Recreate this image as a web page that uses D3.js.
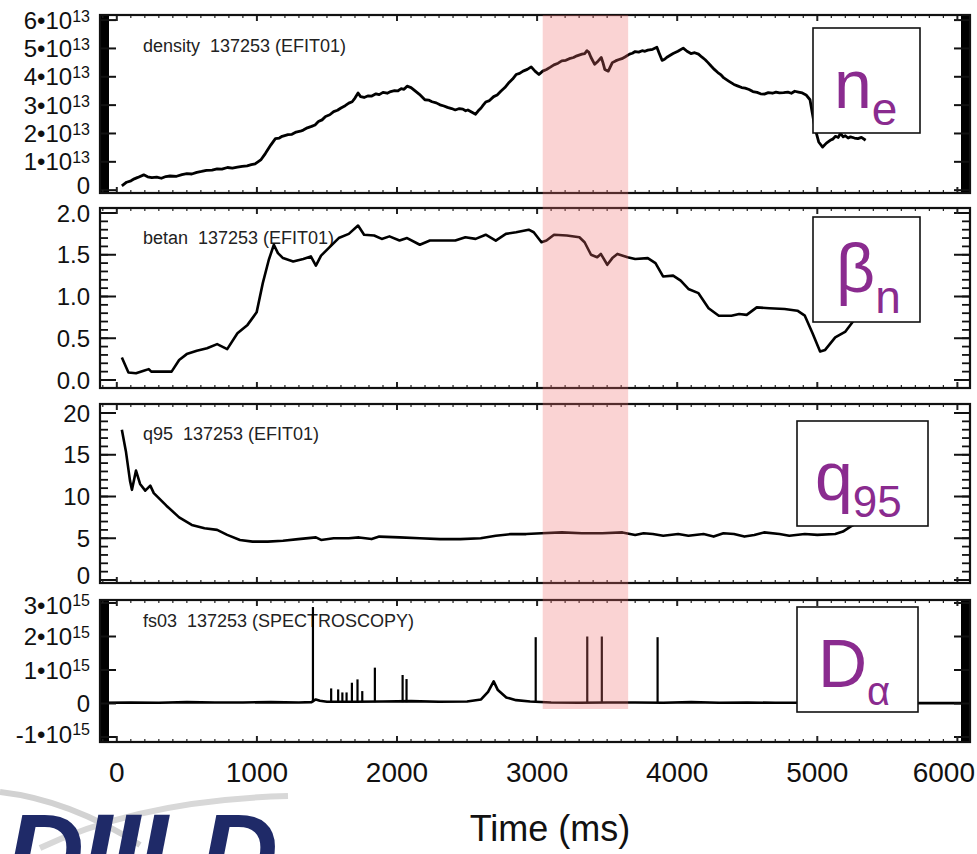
<!DOCTYPE html>
<html>
<head>
<meta charset="utf-8">
<script src="https://cdn.jsdelivr.net/npm/d3@7"></script>
<style>
body { margin: 0; background: #fff; }
svg { display: block; font-family: "Liberation Sans", Arial, Helvetica, sans-serif; }
.title { font-size: 18px; fill: #222; }
.ylab { font-size: 24px; fill: #111; }
.xlab { font-size: 28px; fill: #111; }
.tag { fill: #8a2b8f; }
</style>
</head>
<body>
<div id="chart"></div>
<script>
// time axis (ms)
var timeTicks = [0, 1000, 2000, 3000, 4000, 5000, 6000];
var bandRange = [3040, 3650];

// line-average density, units of 1e13
var densityTicks = [0, 1, 2, 3, 4, 5, 6];
var densityTickLabels = ["0", "1•10^13", "2•10^13", "3•10^13", "4•10^13", "5•10^13", "6•10^13"];
var densityData = [[36,0.15],[70,0.28],[101,0.33],[125,0.40],[150,0.45],[192,0.54],[220,0.47],[250,0.44],
  [285,0.46],[318,0.42],[350,0.48],[380,0.50],[427,0.49],[465,0.55],[500,0.58],[535,0.57],[571,0.63],
  [605,0.66],[640,0.70],[680,0.71],[716,0.75],[750,0.74],[790,0.80],[825,0.78],[861,0.81],[895,0.84],
  [930,0.86],[960,0.90],[987,0.93],[1030,1.08],[1060,1.29],[1100,1.60],[1132,1.82],[1160,1.84],
  [1180,1.90],[1222,1.96],[1250,1.97],[1280,2.05],[1310,2.08],[1331,2.12],[1360,2.20],[1390,2.25],
  [1415,2.30],[1439,2.42],[1465,2.48],[1490,2.60],[1520,2.66],[1548,2.77],[1575,2.82],[1600,2.90],
  [1630,2.98],[1656,3.07],[1680,3.12],[1700,3.25],[1722,3.43],[1740,3.30],[1765,3.27],[1795,3.33],
  [1820,3.32],[1850,3.40],[1873,3.37],[1900,3.45],[1930,3.42],[1955,3.48],[1982,3.51],[2005,3.50],
  [2030,3.58],[2050,3.56],[2072,3.67],[2100,3.62],[2127,3.51],[2160,3.38],[2199,3.19],[2225,3.18],
  [2250,3.12],[2280,3.08],[2307,3.01],[2335,2.97],[2360,2.92],[2390,2.88],[2416,2.83],[2445,2.88],
  [2470,2.86],[2490,2.80],[2506,2.83],[2535,2.75],[2561,2.68],[2580,2.80],[2600,2.90],[2615,3.00],
  [2633,3.11],[2660,3.16],[2690,3.30],[2715,3.36],[2741,3.49],[2770,3.62],[2800,3.80],[2825,3.92],
  [2850,4.08],[2875,4.12],[2900,4.20],[2930,4.26],[2958,4.35],[2985,4.20],[3013,4.08],[3040,4.20],
  [3067,4.26],[3095,4.34],[3120,4.42],[3150,4.48],[3176,4.56],[3205,4.58],[3230,4.64],[3260,4.68],
  [3284,4.74],[3320,4.80],[3340,4.82],[3356,4.92],[3370,4.86],[3385,4.68],[3411,4.44],[3435,4.55],
  [3458,4.68],[3470,4.50],[3483,4.26],[3508,4.20],[3537,4.50],[3560,4.56],[3580,4.60],[3605,4.64],
  [3627,4.70],[3660,4.80],[3680,4.83],[3700,4.89],[3725,4.87],[3750,4.92],[3770,4.90],[3790,4.94],
  [3825,4.97],[3855,5.04],[3870,4.85],[3892,4.58],[3910,4.62],[3930,4.70],[3950,4.76],[3971,4.82],
  [4005,4.90],[4043,5.01],[4070,4.90],[4098,4.82],[4125,4.85],[4152,4.80],[4175,4.70],[4200,4.60],
  [4220,4.50],[4242,4.38],[4265,4.26],[4290,4.15],[4310,4.08],[4333,3.96],[4370,3.84],[4405,3.73],
  [4430,3.68],[4460,3.62],[4485,3.60],[4513,3.55],[4540,3.48],[4570,3.45],[4595,3.40],[4622,3.39],
  [4650,3.44],[4680,3.42],[4705,3.46],[4730,3.43],[4760,3.44],[4790,3.46],[4815,3.42],[4839,3.49],
  [4865,3.46],[4893,3.43],[4920,3.36],[4948,3.19],[4965,2.70],[4984,2.18],[5010,1.70],[5038,1.52],
  [5065,1.66],[5092,1.76],[5110,1.80],[5130,1.90],[5150,1.86],[5165,2.00],[5185,1.88],[5200,1.92],
  [5220,1.84],[5237,1.88],[5265,1.84],[5290,1.82],[5315,1.86],[5345,1.76]];

// normalised beta
var betanTicks = [0, 0.5, 1, 1.5, 2];
var betanTickLabels = ["0.0", "0.5", "1.0", "1.5", "2.0"];
var betanData = [[36,0.27],[83,0.09],[137,0.08],[192,0.11],[228,0.13],[246,0.10],[300,0.10],[391,0.10],
  [445,0.24],[499,0.31],[571,0.35],[644,0.38],[716,0.43],[788,0.37],[861,0.56],[933,0.66],[998,0.81],
  [1042,1.16],[1085,1.44],[1121,1.62],[1150,1.52],[1186,1.46],[1259,1.42],[1331,1.45],[1385,1.48],
  [1421,1.37],[1458,1.49],[1530,1.61],[1584,1.70],[1656,1.75],[1722,1.85],[1765,1.74],[1837,1.73],
  [1891,1.69],[1946,1.72],[2018,1.67],[2072,1.70],[2163,1.62],[2235,1.67],[2344,1.67],[2416,1.67],
  [2488,1.71],[2561,1.69],[2633,1.74],[2705,1.67],[2777,1.75],[2850,1.77],[2940,1.80],[2976,1.77],
  [3031,1.65],[3067,1.67],[3121,1.74],[3212,1.73],[3302,1.71],[3339,1.65],[3385,1.50],[3429,1.47],
  [3455,1.51],[3501,1.38],[3537,1.46],[3573,1.51],[3646,1.47],[3700,1.45],[3790,1.46],[3845,1.40],
  [3899,1.24],[3971,1.25],[4025,1.19],[4080,1.09],[4152,1.04],[4224,0.86],[4297,0.77],[4387,0.77],
  [4442,0.79],[4496,0.78],[4568,0.87],[4658,0.86],[4767,0.85],[4858,0.83],[4911,0.77],[4966,0.56],
  [5020,0.34],[5056,0.36],[5128,0.51],[5201,0.58],[5255,0.70],[5320,0.85]];

// safety factor q95
var q95Ticks = [0, 5, 10, 15, 20];
var q95TickLabels = ["0", "5", "10", "15", "20"];
var q95Data = [[36,18.0],[65,15.4],[94,11.9],[108,10.8],[137,13.1],[166,11.5],[203,10.7],[239,11.3],
  [264,10.4],[354,8.9],[445,7.5],[535,6.6],[626,6.2],[716,6.0],[788,5.4],[879,4.8],[969,4.6],[1078,4.6],
  [1186,4.7],[1295,4.9],[1421,5.1],[1458,4.8],[1548,5.0],[1656,5.0],[1729,5.1],[1819,4.9],[1873,5.2],
  [2018,5.1],[2163,5.0],[2307,4.9],[2452,4.9],[2597,5.0],[2705,5.3],[2814,5.5],[2922,5.5],[3031,5.6],
  [3176,5.7],[3320,5.6],[3465,5.6],[3609,5.7],[3700,5.4],[3760,5.6],[3826,5.5],[3900,5.3],[4007,5.5],
  [4080,5.3],[4188,5.5],[4260,5.2],[4330,5.6],[4405,5.5],[4480,5.2],[4550,5.4],[4620,5.7],[4730,5.5],
  [4800,5.3],[4911,5.5],[5000,5.4],[5128,5.5],[5183,5.8],[5237,6.4],[5300,7.0]];

// D-alpha (fs03), units of 1e15
var dalphaTicks = [-1, 0, 1, 2, 3];
var dalphaTickLabels = ["-1•10^15", "0", "1•10^15", "2•10^15", "3•10^15"];
var dalphaBase = [[-120,0.02],[100,0.03],[300,0.02],[500,0.04],[700,0.03],[900,0.03],[1100,0.04],
  [1300,0.03],[1390,0.04],[1420,0.12],[1450,0.08],[1500,0.05],[1700,0.05],[1900,0.06],[2100,0.07],
  [2300,0.05],[2500,0.06],[2600,0.12],[2650,0.35],[2690,0.66],[2720,0.40],[2780,0.18],[2850,0.10],
  [2950,0.06],[3100,0.03],[3300,0.02],[3500,0.03],[3700,0.03],[3900,0.02],[4100,0.04],[4300,0.02],
  [4500,0.03],[4700,0.02],[4900,0.02],[5100,0.02],[5300,0.01],[5500,0.01],[5700,0.01],[6090,0.01]];
var dalphaSpikeTime = [1400, 1530, 1580, 1610, 1640, 1678, 1718, 1752, 1842, 2040, 2068, 2990, 3358, 3462, 3860];
var dalphaSpikeValue = [2.88, 0.45, 0.42, 0.33, 0.33, 0.62, 0.72, 0.37, 1.07, 0.85, 0.73, 1.98, 2.0, 2.0, 1.98];

var width = 977, height = 854;

var svg = d3.select("#chart").append("svg")
    .attr("width", width)
    .attr("height", height);

// shared time scale
var x = d3.scaleLinear().domain([-120, 6090]).range([100, 970]);

// panel layout
var panels = [
  {id: "p1", title: "density  137253 (EFIT01)", top: 15, bottom: 193, domain: [-0.1, 6.18],
   ticks: densityTicks, labels: densityTickLabels, minor: null, data: densityData, lw: 2.8,
   titleY: 52, box: [813, 28, 107, 105], tag: "n", sub: "e", tagX: 834, tagY: 108, subDy: 17, subSize: 46},
  {id: "p2", title: "betan  137253 (EFIT01)", top: 208, bottom: 388, domain: [-0.096, 2.06],
   ticks: betanTicks, labels: betanTickLabels, minor: 0.1, data: betanData, lw: 2.6,
   titleY: 244, box: [813, 217, 107, 105], tag: "β", sub: "n", tagX: 836, tagY: 292, subDy: 21, subSize: 46},
  {id: "p3", title: "q95  137253 (EFIT01)", top: 404, bottom: 583, domain: [-0.36, 21.08],
   ticks: q95Ticks, labels: q95TickLabels, minor: 1, data: q95Data, lw: 2.6,
   titleY: 440, box: [797, 421, 131, 105], tag: "q", sub: "95", tagX: 815, tagY: 500, subDy: 17, subSize: 44},
  {id: "p4", title: "fs03  137253 (SPECTROSCOPY)", top: 600, bottom: 742, domain: [-1.15, 3.09],
   ticks: dalphaTicks, labels: dalphaTickLabels, minor: null, data: dalphaBase, lw: 2.6,
   titleY: 627, box: [797, 607, 121, 105], tag: "D", sub: "α", tagX: 818, tagY: 687, subDy: 18, subSize: 40}
];

var valueline = function(y) {
  return d3.line()
    .x(function(d) { return x(d[0]); })
    .y(function(d) { return y(d[1]); });
};

panels.forEach(function(p) {
  var y = d3.scaleLinear().domain(p.domain).range([p.bottom, p.top]);
  var g = svg.append("g").attr("class", p.id);

  g.append("clipPath").attr("id", "clip-" + p.id)
    .append("rect")
    .attr("x", x.range()[0]).attr("y", p.top)
    .attr("width", x.range()[1] - x.range()[0]).attr("height", p.bottom - p.top);

  // title
  g.append("text").attr("class", "title")
    .attr("x", 143).attr("y", p.titleY)
    .style("white-space", "pre")
    .text(p.title);

  // the trace
  var plot = g.append("g").attr("clip-path", "url(#clip-" + p.id + ")");
  plot.append("path")
    .attr("d", valueline(y)(p.data))
    .attr("fill", "none")
    .attr("stroke", "#000")
    .attr("stroke-width", p.lw)
    .attr("stroke-linejoin", "round");

  if (p.id === "p4") {
    plot.selectAll("line.spike")
      .data(dalphaSpikeTime)
      .enter().append("line")
      .attr("class", "spike")
      .attr("x1", function(d) { return x(d); })
      .attr("x2", function(d) { return x(d); })
      .attr("y1", y(0.04))
      .attr("y2", function(d, i) { return y(dalphaSpikeValue[i]); })
      .attr("stroke", "#000")
      .attr("stroke-width", 2.2);
  }

  var x0 = x.range()[0], x1 = x.range()[1];

  // minor y ticks, or the dense bar IDL draws on the sci panels
  if (p.minor) {
    var mt = d3.range(Math.ceil(p.domain[0] / p.minor) * p.minor, p.domain[1], p.minor);
    mt.forEach(function(v) {
      var yy = y(v);
      if (yy < p.top + 1 || yy > p.bottom - 1) return;
      g.append("line").attr("x1", x0).attr("x2", x0 + 8).attr("y1", yy).attr("y2", yy)
        .attr("stroke", "#111").attr("stroke-width", 1.8);
      g.append("line").attr("x1", x1).attr("x2", x1 - 8).attr("y1", yy).attr("y2", yy)
        .attr("stroke", "#111").attr("stroke-width", 1.8);
    });
  } else {
    g.append("rect").attr("x", x0).attr("y", p.top).attr("width", 9).attr("height", p.bottom - p.top)
      .attr("fill", "#000");
    g.append("rect").attr("x", x1 - 9).attr("y", p.top).attr("width", 9).attr("height", p.bottom - p.top)
      .attr("fill", "#000");
  }

  // major y ticks
  p.ticks.forEach(function(v) {
    var yy = y(v);
    g.append("line").attr("x1", x0).attr("x2", x0 + 16).attr("y1", yy).attr("y2", yy)
      .attr("stroke", "#111").attr("stroke-width", 2);
    g.append("line").attr("x1", x1).attr("x2", x1 - 16).attr("y1", yy).attr("y2", yy)
      .attr("stroke", "#111").attr("stroke-width", 2);
  });

  // y tick labels, "^" marks the exponent; end labels kept near the box height
  p.ticks.forEach(function(v, i) {
    var parts = p.labels[i].split("^");
    var yy = y(v);
    if (i === 0) yy = Math.min(yy, p.bottom - 8);
    if (i === p.ticks.length - 1) yy = Math.max(yy, p.top + 5);
    var t = g.append("text").attr("class", "ylab")
      .attr("x", 90).attr("y", yy).attr("dy", "0.36em")
      .attr("text-anchor", "end");
    t.append("tspan").text(parts[0]);
    if (parts.length > 1) {
      t.append("tspan").attr("dy", "-0.45em").style("font-size", "16px").text(parts[1]);
    }
  });

  // time ticks on top and bottom of each box
  d3.range(-100, 6090, 100).forEach(function(tv) {
    var major = tv % 1000 === 0;
    var len = major ? 6 : 3;
    g.append("line").attr("x1", x(tv)).attr("x2", x(tv)).attr("y1", p.top).attr("y2", p.top + len)
      .attr("stroke", "#222").attr("stroke-width", major ? 2 : 1.2);
    g.append("line").attr("x1", x(tv)).attr("x2", x(tv)).attr("y1", p.bottom).attr("y2", p.bottom - len)
      .attr("stroke", "#222").attr("stroke-width", major ? 2 : 1.2);
  });

  // frame
  g.append("rect")
    .attr("x", x0).attr("y", p.top)
    .attr("width", x1 - x0).attr("height", p.bottom - p.top)
    .attr("fill", "none").attr("stroke", "#111").attr("stroke-width", 2.2);
});

// highlighted time window across the panels
svg.append("rect")
  .attr("x", x(bandRange[0]))
  .attr("y", 15)
  .attr("width", x(bandRange[1]) - x(bandRange[0]))
  .attr("height", 694)
  .attr("fill", "rgb(238,110,110)")
  .attr("opacity", 0.3);

// quantity tags
panels.forEach(function(p) {
  svg.append("rect")
    .attr("x", p.box[0]).attr("y", p.box[1])
    .attr("width", p.box[2]).attr("height", p.box[3])
    .attr("fill", "#fff").attr("stroke", "#111").attr("stroke-width", 1.6);
  var t = svg.append("text").attr("class", "tag")
    .attr("x", p.tagX).attr("y", p.tagY)
    .style("font-size", "68px");
  t.append("tspan").text(p.tag);
  t.append("tspan").attr("dy", p.subDy).style("font-size", p.subSize + "px").text(p.sub);
});

// time axis labels
svg.selectAll("text.xlab")
  .data(timeTicks)
  .enter().append("text")
  .attr("class", "xlab")
  .attr("x", function(d) { return x(d); })
  .attr("y", 782)
  .attr("text-anchor", "middle")
  .text(function(d) { return d; })
  .each(function(d) {
    var w = this.getComputedTextLength();
    if (x(d) + w / 2 > width - 2) d3.select(this).attr("x", width - 2 - w / 2);
  });

svg.append("text")
  .attr("x", 550).attr("y", 841)
  .attr("text-anchor", "middle")
  .style("font-size", "36px")
  .style("fill", "#111")
  .text("Time (ms)");

// logo, cut off by the bottom edge as in the slide
svg.append("path")
  .attr("d", "M0,792 Q70,800 140,845")
  .attr("fill", "none").attr("stroke", "#d2d2d2").attr("stroke-width", 6);
svg.append("path")
  .attr("d", "M40,848 Q140,800 288,796")
  .attr("fill", "none").attr("stroke", "#d8d8d8").attr("stroke-width", 6);
svg.append("text")
  .attr("x", 6).attr("y", 889)
  .style("font-size", "108px")
  .style("font-weight", "bold")
  .style("font-style", "italic")
  .style("fill", "#1f2a68")
  .style("letter-spacing", "-2px")
  .text("DIII-D");
</script>
</body>
</html>
